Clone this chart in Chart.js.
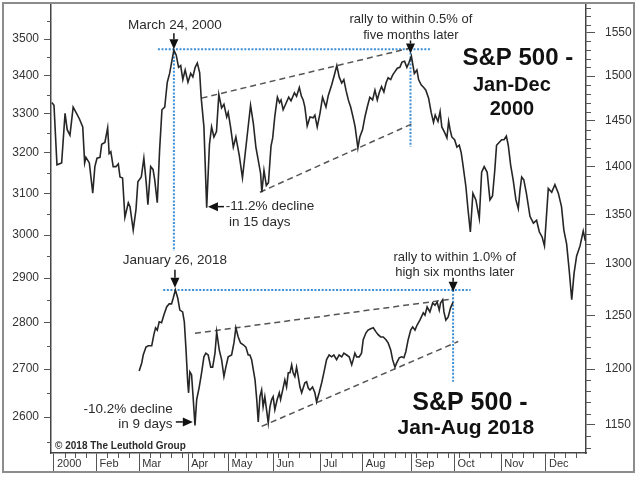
<!DOCTYPE html>
<html>
<head>
<meta charset="utf-8">
<script src="https://cdn.jsdelivr.net/npm/chart.js@4.4.0/dist/chart.umd.min.js"></script>
<style>
  html, body { margin: 0; padding: 0; background: #fff; }
</style>
</head>
<body>
<canvas id="chart" width="639" height="480"></canvas>
<script>
const FONT = '"Liberation Sans", Arial, sans-serif';

// x = trading day on the 2000 calendar (0 = 31 Dec 1999); 2018 is lined up peak-on-peak
const monthStarts = [1, 21, 41, 64, 83, 104, 126, 146, 169, 189, 211, 232];
const monthLabels = ['2000', 'Feb', 'Mar', 'Apr', 'May', 'Jun', 'Jul', 'Aug', 'Sep', 'Oct', 'Nov', 'Dec'];

const leftTicks = [2600, 2700, 2800, 2900, 3000, 3100, 3200, 3300, 3400, 3500];
const rightTicks = [1150, 1200, 1250, 1300, 1350, 1400, 1450, 1500, 1550];

// S&P 500, Jan-Dec 2000 (right axis)
const day2000 = [
  0, 1, 2.4, 4.6, 6.2, 7.2, 8.5, 10, 11.6, 12.9,
  14.5, 15.4, 16, 17.6, 19.2, 20.2, 21.2, 22.6, 23.4, 24.9,
  26.2, 26.9, 27.7, 28.8, 30.1, 31.2, 32, 33.2, 34.3, 35.9,
  36.7, 38.2, 39.5, 40.4, 42, 43.2, 44.3, 45.1, 46.4, 47.5,
  48.3, 49.5, 50.6, 51.7, 53, 54.2, 55.3, 56.4, 57.3, 58.4,
  59.5, 60.5, 61.5, 62.6, 63.9, 65.2, 66.2, 67.3, 68.3, 69.4,
  70.1, 71.4, 72.7, 74, 75, 76.1, 77.3, 78.4, 79.7, 80.8,
  82.1, 82.8, 83.9, 85.2, 86.4, 88, 89.5, 91.5, 93.3, 94.6,
  95.8, 96.9, 98, 98.6, 99.6, 100.7, 101.7, 102.9, 103.7, 104.7,
  105.9, 106.9, 107.6, 108.6, 109.9, 111.2, 112.3, 113.9, 114.9, 116.2,
  117.2, 118, 118.8, 119.9, 121.2, 122.7, 123.5, 124.6, 125.9, 127.1,
  128.7, 129.8, 131.4, 132.4, 133.8, 134.9, 136.1, 137.1, 138.1, 139.2,
  140.3, 141.5, 142.4, 143.7, 144.6, 145.9, 147, 148.1, 149.3, 150.6,
  151.7, 152.8, 153.7, 154.8, 155.9, 156.9, 157.9, 159.1, 160, 161.1,
  162.2, 163.4, 164.4, 165.6, 166.7, 167.6, 168.8, 170.2, 171.4, 172.2,
  173.4, 174.6, 175.6, 176.9, 178.1, 179.2, 180, 181.3, 182.3, 183.1,
  184.4, 185.5, 186.3, 187, 187.8, 189.1, 190.2, 191.3, 192.2, 192.9,
  193.8, 194.4, 195.4, 196.5, 197.7, 199.1, 200.7, 201.8, 203, 204.4,
  205.7, 206.9, 208, 208.8, 210, 211.2, 212.3, 213.4, 214.3, 215.4,
  216.6, 217.9, 219, 219.8, 220.6, 221.6, 222.8, 224.5, 226.1, 227.6,
  228.9, 230.2, 231.3, 233.1, 234.7, 236.2, 237.8, 239.3, 240.4, 241.7,
  242.9, 244.1, 245.2, 246.4, 248, 249.5, 250.5
];
const spx2000 = [
  1470, 1467, 1402, 1404, 1458, 1440, 1434, 1465, 1458, 1452,
  1443, 1404, 1410, 1404, 1372, 1400, 1409, 1410, 1424, 1426,
  1442, 1414, 1416, 1400, 1400, 1403, 1389, 1388, 1347, 1362,
  1358, 1334, 1355, 1384, 1389, 1409, 1383, 1360, 1400, 1397,
  1386, 1362, 1418, 1462, 1465, 1493, 1503, 1518, 1530, 1524,
  1510, 1512, 1496, 1507, 1493, 1503, 1499, 1510, 1515, 1504,
  1476, 1443, 1357, 1424, 1443, 1432, 1438, 1479, 1464, 1468,
  1454, 1459, 1443, 1421, 1432, 1412, 1388, 1429, 1467, 1447,
  1421, 1407, 1393, 1373, 1396, 1380, 1383, 1422, 1431, 1455,
  1476, 1470, 1473, 1462, 1469, 1476, 1472, 1481, 1477, 1487,
  1477, 1473, 1465, 1444, 1454, 1453, 1456, 1443, 1458, 1476,
  1465, 1478, 1490, 1499, 1512, 1499, 1492, 1496, 1484, 1473,
  1465, 1453, 1443, 1420, 1432, 1440, 1454, 1465, 1476, 1473,
  1484, 1473, 1481, 1488, 1482, 1492, 1498, 1496, 1501, 1505,
  1509, 1510, 1516, 1517, 1510, 1515, 1523, 1503, 1507, 1496,
  1490, 1487, 1484, 1475, 1459, 1448, 1456, 1449, 1460, 1443,
  1437, 1431, 1449, 1440, 1432, 1429, 1421, 1423, 1415, 1404,
  1389, 1379, 1355, 1332, 1372, 1365, 1346, 1394, 1400, 1394,
  1365, 1369, 1397, 1423, 1426, 1429, 1429, 1433, 1423, 1402,
  1386, 1365, 1356, 1375, 1389, 1386, 1372, 1348, 1341, 1344,
  1332, 1327, 1318, 1377, 1373, 1381, 1372, 1358, 1334, 1320,
  1294, 1265, 1291, 1308, 1318, 1333, 1323
];

// S&P 500, Jan-Aug 2018 (left axis)
const day2018 = [
  41, 42.2, 42.9, 44.2, 45.3, 46.9, 47.9, 48.7, 49.5, 50.4,
  51.5, 52.6, 53.9, 55.1, 56.2, 57, 58, 59.1, 60.1, 61.4,
  62.2, 63, 63.8, 64.2, 64.8, 65.6, 66.4, 67.2, 68, 69.2,
  70.3, 71.4, 72.3, 73.4, 74.6, 75.5, 76.6, 77.4, 78.6, 79.7,
  80.8, 81.7, 82.8, 84.4, 85.5, 86.4, 87.5, 88.6, 89.9, 91.1,
  92.2, 93, 93.8, 94.6, 95.4, 96.2, 96.9, 97.7, 98.5, 99.2,
  100, 100.8, 101.6, 102.4, 103.2, 103.9, 104.7, 105.8, 106.8, 107.4,
  108.4, 109.4, 110.2, 111, 111.8, 112.6, 113.3, 114.1, 114.9, 115.7,
  116.5, 117.3, 118, 118.8, 119.6, 120.4, 121.2, 122.4, 123.5, 124.3,
  125.5, 126.7, 127.7, 129, 130.2, 131.4, 132.4, 133.7, 134.9, 136.1,
  137.1, 138.4, 139.6, 140.8, 141.5, 142.3, 143.1, 144.3, 145.4, 146.2,
  147.5, 148.5, 149.7, 150.9, 152.2, 153.2, 154.4, 155.6, 156.9, 157.9,
  159.1, 160, 161.1, 161.9, 163.1, 164.2, 165.3, 166.2, 167.3, 168.5,
  169.4, 170.5, 171.5, 172.8, 174.4, 175.2, 176.2, 177.5, 178.8, 179.9,
  180.9, 181.9, 182.5, 183.5, 184.1, 185, 186.1, 187.2, 188.4
];
const spx2018 = [
  2696, 2713, 2730, 2747, 2750, 2750, 2774, 2789, 2784, 2802,
  2800, 2817, 2835, 2842, 2842, 2855, 2873, 2855, 2828, 2824,
  2802, 2741, 2671, 2650, 2694, 2688, 2636, 2583, 2636, 2662,
  2692, 2726, 2734, 2730, 2704, 2704, 2734, 2780, 2741, 2720,
  2684, 2704, 2726, 2730, 2756, 2789, 2769, 2756, 2752, 2747,
  2730, 2730, 2720, 2698, 2677, 2636, 2590, 2642, 2656, 2621,
  2642, 2615, 2588, 2621, 2636, 2642, 2615, 2636, 2650, 2636,
  2656, 2677, 2662, 2692, 2692, 2709, 2692, 2684, 2704, 2684,
  2662, 2650, 2660, 2671, 2673, 2660, 2656, 2662, 2650, 2631,
  2650, 2671, 2692, 2720, 2730, 2726, 2730, 2720, 2730, 2726,
  2734, 2730, 2726, 2709, 2720, 2734, 2726, 2726, 2734, 2763,
  2778, 2784, 2787, 2789, 2780, 2774, 2769, 2769, 2763, 2756,
  2741, 2720, 2704, 2713, 2724, 2726, 2724, 2737, 2763, 2784,
  2791, 2784, 2795, 2806, 2822, 2817, 2835, 2824, 2844, 2839,
  2846, 2828, 2844, 2851, 2824, 2806, 2813, 2833, 2846
];

// dashed wedge lines
const wedgeTop2000X = [70.3, 167.8], wedgeTop2000Y = [1475, 1532];
const wedgeLow2000X = [97.7, 169.7], wedgeLow2000Y = [1373, 1447];
const wedgeTop2018X = [67.2, 188.4], wedgeTop2018Y = [2777, 2853];
const wedgeLow2018X = [98.5, 190.8], wedgeLow2018Y = [2581, 2759];

// blue dotted guides
const peakLine2000X = [49.8, 178.3], peakLine2000Y = [1531, 1531];
const peakDrop2000X = [57.3, 57.3], peakDrop2000Y = [1531, 1313];
const retest2000X = [168.4, 168.4], retest2000Y = [1531, 1421];
const peakLine2018X = [52.3, 196.6], peakLine2018Y = [2873, 2873];
const retest2018X = [188.4, 188.4], retest2018Y = [2873, 2673];

const pts = (xs, ys) => xs.map((x, i) => ({ x: x, y: ys[i] }));

function dashed(xs, ys, axis) {
  return { data: pts(xs, ys), yAxisID: axis, borderColor: '#555', borderWidth: 1.5,
           borderDash: [6, 4], pointRadius: 0, order: 2 };
}
function dotted(xs, ys, axis) {
  return { data: pts(xs, ys), yAxisID: axis, borderColor: '#3d8fd6', borderWidth: 2,
           borderDash: [2, 1.6], pointRadius: 0, order: 3 };
}

// annotation text, anchored in data units
const notes = [
  { t: 'March 24, 2000', x: 57.8, y: 1559.5, ax: 'y2', align: 'center', font: '13.5px ' + FONT },
  { t: 'rally to within 0.5% of', x: 168.6, y: 1566.6, ax: 'y2', align: 'center', font: '13px ' + FONT },
  { t: 'five months later', x: 168.6, y: 1547.6, ax: 'y2', align: 'center', font: '13px ' + FONT },
  { t: '-11.2% decline', x: 81.7, y: 1358, ax: 'y2', align: 'left', font: '13.5px ' + FONT },
  { t: 'in 15 days', x: 83.2, y: 1342.3, ax: 'y2', align: 'left', font: '13.5px ' + FONT },
  { t: 'January 26, 2018', x: 57.8, y: 2942, ax: 'y', align: 'center', font: '13.5px ' + FONT },
  { t: 'rally to within 1.0% of', x: 189.2, y: 2948.5, ax: 'y', align: 'center', font: '13px ' + FONT },
  { t: 'high six months later', x: 189.2, y: 2914, ax: 'y', align: 'center', font: '13px ' + FONT },
  { t: '-10.2% decline', x: 56.8, y: 2615, ax: 'y', align: 'right', font: '13.5px ' + FONT },
  { t: 'in 9 days', x: 56.6, y: 2584.5, ax: 'y', align: 'right', font: '13.5px ' + FONT },
  { t: 'S&P 500 -', x: 218.8, y: 1520.8, ax: 'y2', align: 'center', font: 'bold 24px ' + FONT, color: '#111' },
  { t: 'Jan-Dec', x: 216, y: 1489.6, ax: 'y2', align: 'center', font: 'bold 20px ' + FONT, color: '#111' },
  { t: '2000', x: 216, y: 1462, ax: 'y2', align: 'center', font: 'bold 20px ' + FONT, color: '#111' },
  { t: 'S&P 500 -', x: 196.3, y: 2629.3, ax: 'y', align: 'center', font: 'bold 25px ' + FONT, color: '#111' },
  { t: 'Jan-Aug 2018', x: 194.4, y: 2577.9, ax: 'y', align: 'center', font: 'bold 21px ' + FONT, color: '#111' },
  { t: '\u00a9 2018 The Leuthold Group', x: 1.5, y: 2541.8, ax: 'y', align: 'left', font: 'bold 10px ' + FONT }
];

// arrow tips, anchored in data units
const arrows = [
  { x: 57.3, y: 1531, ax: 'y2', dir: 'down', len: 16 },
  { x: 168.4, y: 1526, ax: 'y2', dir: 'down', len: 13 },
  { x: 57.8, y: 2878, ax: 'y', dir: 'down', len: 18 },
  { x: 188.4, y: 2869, ax: 'y', dir: 'down', len: 14 },
  { x: 73.3, y: 1358, ax: 'y2', dir: 'left', len: 16 },
  { x: 66.2, y: 2590, ax: 'y', dir: 'right', len: 17 }
];

const leftMinor = [], rightMinor = [], weekTicks = [];
for (let v = 2550; v <= 3550; v += 100) leftMinor.push(v);
for (let v = 1130; v <= 1580; v += 10) if (v % 50) rightMinor.push(v);
for (let d = 6; d < 251; d += 5) if (!monthStarts.some(m => Math.abs(m - d) < 1.5)) weekTicks.push(d);

function drawArrow(ctx, x, y, dir, len) {
  const h = 10, w = 4.5;
  ctx.beginPath();
  if (dir === 'down') {
    ctx.moveTo(x, y - h); ctx.lineTo(x, y - len);
    ctx.stroke();
    ctx.beginPath(); ctx.moveTo(x, y); ctx.lineTo(x - w, y - h); ctx.lineTo(x + w, y - h);
  } else if (dir === 'left') {
    ctx.moveTo(x + h, y); ctx.lineTo(x + len, y);
    ctx.stroke();
    ctx.beginPath(); ctx.moveTo(x, y); ctx.lineTo(x + h, y - w); ctx.lineTo(x + h, y + w);
  } else {
    ctx.moveTo(x - h, y); ctx.lineTo(x - len, y);
    ctx.stroke();
    ctx.beginPath(); ctx.moveTo(x, y); ctx.lineTo(x - h, y - w); ctx.lineTo(x - h, y + w);
  }
  ctx.closePath();
  ctx.fill();
}

const decor = {
  id: 'decor',
  beforeDraw(chart) {
    const ctx = chart.ctx;
    ctx.save();
    ctx.fillStyle = '#fff';
    ctx.fillRect(0, 0, chart.width, chart.height);
    ctx.restore();
  },
  afterDraw(chart) {
    const ctx = chart.ctx, sx = chart.scales.x, yl = chart.scales.y, yr = chart.scales.y2;
    const area = chart.chartArea;
    ctx.save();

    // minor tick marks
    ctx.strokeStyle = '#555';
    ctx.lineWidth = 1;
    ctx.beginPath();
    leftMinor.forEach(v => {
      const py = Math.round(yl.getPixelForValue(v)) + 0.5;
      ctx.moveTo(area.left - 4, py); ctx.lineTo(area.left, py);
    });
    rightMinor.forEach(v => {
      const py = Math.round(yr.getPixelForValue(v)) + 0.5;
      ctx.moveTo(area.right, py); ctx.lineTo(area.right + 5, py);
    });
    weekTicks.forEach(d => {
      const px = Math.round(sx.getPixelForValue(d)) + 0.5;
      ctx.moveTo(px, area.bottom); ctx.lineTo(px, area.bottom + 5);
    });
    ctx.stroke();

    // outer frame
    ctx.strokeStyle = '#8c8c8c';
    ctx.lineWidth = 2;
    ctx.strokeRect(3, area.top, chart.width - 8, area.bottom + 19 - area.top);

    // texts
    ctx.textBaseline = 'middle';
    notes.forEach(n => {
      ctx.font = n.font;
      ctx.fillStyle = n.color || '#2b2b2b';
      ctx.textAlign = n.align;
      ctx.fillText(n.t, sx.getPixelForValue(n.x), chart.scales[n.ax].getPixelForValue(n.y));
    });

    // arrows
    ctx.strokeStyle = '#111';
    ctx.fillStyle = '#111';
    ctx.lineWidth = 1.5;
    arrows.forEach(a => {
      drawArrow(ctx, sx.getPixelForValue(a.x), chart.scales[a.ax].getPixelForValue(a.y), a.dir, a.len);
    });
    ctx.restore();
  }
};

function noPad(s) {
  s.paddingTop = 0; s.paddingBottom = 0; s.paddingLeft = 0; s.paddingRight = 0;
}

new Chart(document.getElementById('chart'), {
  type: 'line',
  data: {
    datasets: [
      { data: pts(day2000, spx2000), yAxisID: 'y2', borderColor: '#262626', borderWidth: 1.6,
        pointRadius: 0, tension: 0, order: 0 },
      { data: pts(day2018, spx2018), yAxisID: 'y', borderColor: '#262626', borderWidth: 1.6,
        pointRadius: 0, tension: 0, order: 1 },
      dashed(wedgeTop2000X, wedgeTop2000Y, 'y2'),
      dashed(wedgeLow2000X, wedgeLow2000Y, 'y2'),
      dashed(wedgeTop2018X, wedgeTop2018Y, 'y'),
      dashed(wedgeLow2018X, wedgeLow2018Y, 'y'),
      dotted(peakLine2000X, peakLine2000Y, 'y2'),
      dotted(peakDrop2000X, peakDrop2000Y, 'y2'),
      dotted(retest2000X, retest2000Y, 'y2'),
      dotted(peakLine2018X, peakLine2018Y, 'y'),
      dotted(retest2018X, retest2018Y, 'y')
    ]
  },
  options: {
    responsive: false,
    animation: false,
    devicePixelRatio: 1,
    layout: { padding: { top: 3, left: 0, right: 0, bottom: 0 } },
    plugins: { legend: { display: false }, tooltip: { enabled: false } },
    scales: {
      x: {
        type: 'linear', position: 'bottom', min: -0.4, max: 250.8, bounds: 'data',
        afterBuildTicks: s => { s.ticks = monthStarts.map(v => ({ value: v })); },
        afterFit: s => { s.height = 27; noPad(s); },
        ticks: {
          autoSkip: false, maxRotation: 0, align: 'start', labelOffset: 3, padding: -15,
          color: '#333', font: { family: FONT, size: 11 },
          callback: (v, i) => monthLabels[i]
        },
        grid: { drawOnChartArea: false, tickLength: 19, tickColor: '#555', tickWidth: 1 },
        border: { color: '#444', width: 1.5 }
      },
      y: {
        type: 'logarithmic', position: 'left', min: 2527.5, max: 3600.5, bounds: 'data',
        afterBuildTicks: s => { s.ticks = leftTicks.map(v => ({ value: v })); },
        afterFit: s => { s.width = 51; noPad(s); },
        ticks: { autoSkip: false, padding: 5, color: '#333', font: { family: FONT, size: 12 },
                 callback: v => String(v) },
        grid: { drawOnChartArea: false, tickLength: 7, tickColor: '#555', tickWidth: 1 },
        border: { color: '#444', width: 1.5 }
      },
      y2: {
        type: 'logarithmic', position: 'right', min: 1125.7, max: 1585.8, bounds: 'data',
        afterBuildTicks: s => { s.ticks = rightTicks.map(v => ({ value: v })); },
        afterFit: s => { s.width = 53; noPad(s); },
        ticks: { autoSkip: false, padding: 10, color: '#333', font: { family: FONT, size: 12 },
                 callback: v => String(v) },
        grid: { drawOnChartArea: false, tickLength: 9, tickColor: '#555', tickWidth: 1 },
        border: { color: '#444', width: 1.5 }
      }
    }
  },
  plugins: [decor]
});
</script>
</body>
</html>
